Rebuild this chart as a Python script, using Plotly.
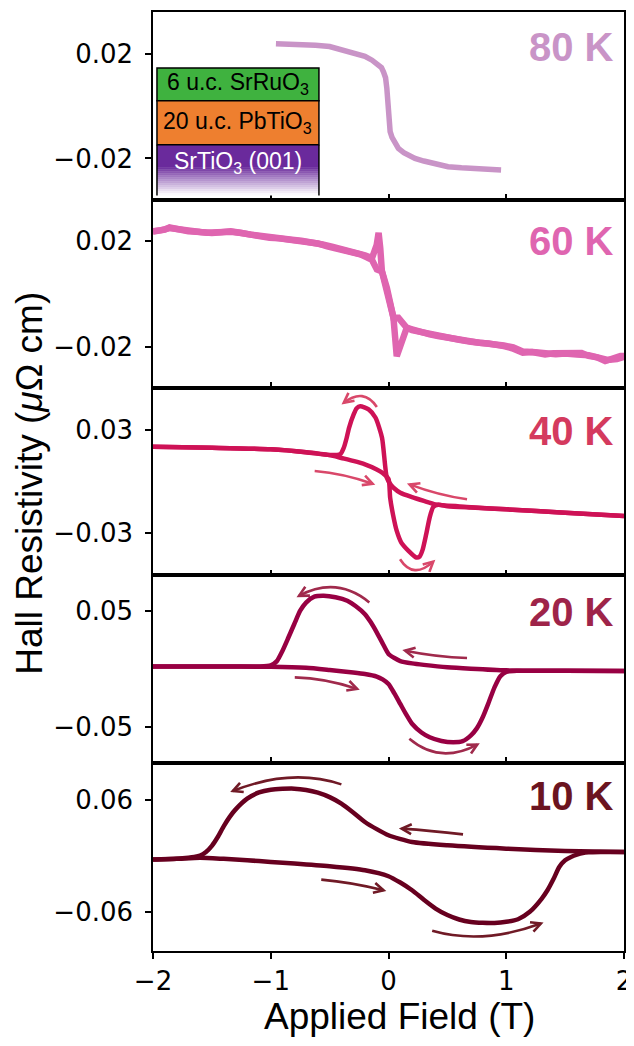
import math
import plotly.graph_objects as go
from plotly.subplots import make_subplots

# ---------------- data ----------------
field_80 = [-0.956, -0.86, -0.76, -0.62, -0.50, -0.40, -0.34, -0.26, -0.20, -0.14, -0.09,
            -0.06, -0.042, -0.025, -0.014, -0.006, 0.004, 0.014, 0.03, 0.05, 0.084, 0.13,
            0.18, 0.225, 0.30, 0.40, 0.506, 0.62, 0.75, 0.86, 0.956]
rho_80 = [0.0238, 0.0237, 0.0235, 0.0232, 0.0227, 0.0216, 0.0207, 0.0198, 0.0190, 0.0175, 0.0160,
          0.0147, 0.0130, 0.0108, 0.0067, 0.0010, -0.0055, -0.0098, -0.0120, -0.0140, -0.0162, -0.0178,
          -0.0190, -0.0200, -0.0210, -0.0222, -0.0232, -0.0236, -0.0240, -0.0242, -0.0244]

field_60_up = [-2.0, -1.95, -1.9, -1.86, -1.8, -1.75, -1.7, -1.6, -1.54, -1.45, -1.34, -1.25, -1.2,
               -1.1, -1.01, -0.93, -0.86, -0.78, -0.69, -0.6, -0.52, -0.45, -0.35, -0.28, -0.24, -0.18,
               -0.14, -0.099, -0.056, -0.014, 0.014, 0.042, 0.07, 0.11, 0.155, 0.2, 0.26, 0.31, 0.35,
               0.42, 0.49, 0.56, 0.64, 0.77, 0.85, 0.92, 0.98, 1.05, 1.14, 1.22, 1.33, 1.4, 1.5,
               1.58, 1.64, 1.7, 1.77, 1.84, 1.9, 1.97, 2.0]
rho_60_up = [0.0235, 0.0238, 0.0242, 0.0250, 0.0243, 0.0239, 0.0236, 0.0233, 0.0230, 0.0232, 0.0234, 0.0229, 0.0224,
             0.0219, 0.0211, 0.0209, 0.0205, 0.0203, 0.0198, 0.0190, 0.0179, 0.0172, 0.0162, 0.0155, 0.0149, 0.0137,
             0.0128, 0.0092, 0.0085, 0.0023, -0.0040, -0.0089, -0.0234, -0.0180, -0.0127, -0.0133, -0.0142, -0.0148, -0.0152,
             -0.0158, -0.0164, -0.0168, -0.0175, -0.0183, -0.0186, -0.0189, -0.0196, -0.0204, -0.0221, -0.0218, -0.0227, -0.0223, -0.0221,
             -0.0225, -0.0222, -0.0233, -0.0238, -0.0252, -0.0241, -0.0233, -0.0233]

field_60_down = [2.0, 1.94, 1.86, 1.78, 1.7, 1.6, 1.5, 1.42, 1.33, 1.25, 1.14, 1.06, 0.98, 0.9, 0.8,
                 0.7, 0.6, 0.5, 0.4, 0.3, 0.2, 0.155, 0.084, 0.042, 0.014, -0.014, -0.056, -0.07,
                 -0.084, -0.1, -0.14, -0.2, -0.26, -0.33, -0.4, -0.48, -0.56, -0.65, -0.74, -0.82,
                 -0.9, -1.0, -1.08, -1.17, -1.26, -1.34, -1.42, -1.5, -1.6, -1.7, -1.78, -1.86, -1.93, -2.0]
rho_60_down = [-0.0236, -0.0245, -0.0248, -0.0236, -0.0230, -0.0228, -0.0224, -0.0227, -0.0226, -0.0219, -0.0216, -0.0201, -0.0194, -0.0191, -0.0186,
               -0.0180, -0.0172, -0.0164, -0.0158, -0.0147, -0.0136, -0.0127, -0.0089, -0.0089, -0.0040, 0.0023, 0.0085, 0.0172,
               0.0230, 0.0185, 0.0135, 0.0145, 0.0153, 0.0160, 0.0168, 0.0178, 0.0186, 0.0195, 0.0200, 0.0204,
               0.0207, 0.0212, 0.0218, 0.0223, 0.0230, 0.0236, 0.0232, 0.0229, 0.0233, 0.0237, 0.0240, 0.0248, 0.0240, 0.0236]

field_40_up = [-2.0, -1.5, -1.0, -0.7, -0.5, -0.4, -0.3, -0.2, -0.1, -0.05, 0.0, 0.014, 0.04, 0.07,
               0.11, 0.17, 0.236, 0.265, 0.29, 0.32, 0.35, 0.38, 0.42, 0.5, 0.7, 1.0, 1.5, 2.0]
rho_40_up = [0.0204, 0.0198, 0.0189, 0.0172, 0.0155, 0.0138, 0.0121, 0.0101, 0.0071, 0.0050, 0.0015, -0.0095, -0.0200, -0.0290,
             -0.0360, -0.0407, -0.0446, -0.0440, -0.0400, -0.0310, -0.0210, -0.0150, -0.0137, -0.0145, -0.0153, -0.0163, -0.0183, -0.0202]

field_40_down = [2.0, 1.5, 1.0, 0.8, 0.6, 0.4, 0.3, 0.2, 0.1, 0.04, 0.02, -0.014, -0.055, -0.11,
                 -0.169, -0.24, -0.27, -0.295, -0.335, -0.355, -0.38, -0.41, -0.5, -0.7, -1.0, -1.5, -2.0]
rho_40_down = [-0.0202, -0.0183, -0.0163, -0.0155, -0.0146, -0.0134, -0.0114, -0.0092, -0.0066, -0.0035, -0.0020, 0.0022, 0.0257, 0.0374,
               0.0423, 0.0442, 0.0430, 0.0395, 0.0315, 0.0257, 0.0198, 0.0160, 0.0155, 0.0172, 0.0189, 0.0198, 0.0204]

field_20_up = [-2.0, -1.5, -1.0, -0.7, -0.5, -0.3, -0.2, -0.1, -0.05, 0.0, 0.05, 0.1, 0.15, 0.2, 0.28,
               0.35, 0.45, 0.55, 0.63, 0.7, 0.75, 0.8, 0.85, 0.9, 0.95, 1.0, 1.1, 1.5, 2.0]
rho_20_up = [0.0022, 0.0021, 0.0019, 0.0010, -0.0009, -0.0030, -0.0043, -0.0065, -0.0090, -0.0129, -0.0210, -0.0300, -0.0390, -0.0470, -0.0545,
             -0.0586, -0.0618, -0.0629, -0.0620, -0.0570, -0.0510, -0.0415, -0.0290, -0.0158, -0.0062, -0.0025, -0.0016, -0.0015, -0.0018]

field_20_down = [2.0, 1.5, 1.0, 0.7, 0.5, 0.3, 0.2, 0.1, 0.05, 0.0, -0.05, -0.1, -0.15, -0.2, -0.28,
                 -0.35, -0.45, -0.55, -0.63, -0.7, -0.75, -0.8, -0.85, -0.9, -0.95, -1.0, -1.1, -1.5, -2.0]
rho_20_down = [-0.0018, -0.0015, -0.0012, 0.0002, 0.0014, 0.0035, 0.0048, 0.0068, 0.0094, 0.0129, 0.0220, 0.0314, 0.0400, 0.0470, 0.0540,
               0.0585, 0.0615, 0.0628, 0.0620, 0.0570, 0.0500, 0.0386, 0.0270, 0.0157, 0.0065, 0.0030, 0.0021, 0.0021, 0.0022]

field_10_up = [-2.0, -1.8, -1.6, -1.4, -1.2, -1.0, -0.8, -0.5, -0.2, 0.0, 0.1, 0.2, 0.3, 0.4, 0.5, 0.6, 0.7,
               0.8, 0.9, 1.0, 1.1, 1.2, 1.3, 1.35, 1.4, 1.45, 1.5, 1.55, 1.6, 1.65, 1.7, 1.8, 2.0]
rho_10_up = [-0.0038, -0.0030, -0.0018, -0.0030, -0.0045, -0.0063, -0.0080, -0.0110, -0.0153, -0.0217, -0.0285, -0.0368, -0.0470, -0.0565, -0.0635, -0.0683, -0.0710,
             -0.0719, -0.0720, -0.0708, -0.0680, -0.0600, -0.0460, -0.0368, -0.0250, -0.0117, -0.0045, -0.0010, 0.0015, 0.0033, 0.0040, 0.0043, 0.0044]

field_10_down = [2.0, 1.5, 1.0, 0.5, 0.2, 0.0, -0.1, -0.2, -0.3, -0.4, -0.5, -0.6, -0.7, -0.8, -0.9,
                 -1.0, -1.1, -1.2, -1.3, -1.35, -1.4, -1.45, -1.5, -1.55, -1.6, -1.65, -1.7, -1.8, -2.0]
rho_10_down = [0.0044, 0.0055, 0.0080, 0.0116, 0.0152, 0.0224, 0.0290, 0.0367, 0.0470, 0.0565, 0.0635, 0.0683, 0.0712, 0.0726, 0.0724,
               0.0715, 0.0685, 0.0618, 0.0500, 0.0420, 0.0320, 0.0205, 0.0110, 0.0044, 0.0005, -0.0010, -0.0018, -0.0028, -0.0038]

temperature_labels = ["80 K", "60 K", "40 K", "20 K", "10 K"]
y_tickvals = [[-0.02, 0.02], [-0.02, 0.02], [-0.03, 0.03], [-0.05, 0.05], [-0.06, 0.06]]
x_tickvals = [-2, -1, 0, 1, 2]
layer_labels = ["6 u.c. SrRuO<sub>3</sub>", "20 u.c. PbTiO<sub>3</sub>", "SrTiO<sub>3</sub> (001)"]

# ---------------- styling ----------------
# the page body adds an 8 px offset, so the figure is 8 px smaller and margins shifted
OFF = 8
W, H = 634 - OFF, 1046 - OFF
PL, PR, PT, PB = 153, 627, 10, 951          # plot area in screen pixels
ML, MR, MT, MB = PL - OFF, W - (PR - OFF), PT - OFF, H - (PB - OFF)
PW, PH = PR - PL, PB - PT
FONT = "Liberation Sans, Arial, Helvetica, sans-serif"
TICKFONT = "DejaVu Sans, sans-serif"
line_colors = ["#c994c7", "#df65b0", "#ce1256", "#980043", "#67001f"]
label_colors = ["#c994c7", "#df65b0", "#d43a5e", "#9e2449", "#6b1420"]
arrow_colors = [None, None, "#d9486a", "#a02a4c", "#701a26"]
line_widths = [5.5, 6.5, 4.5, 4.5, 4.5]
y_ranges = [[-0.0358, 0.0359], [-0.0352, 0.0354], [-0.0551, 0.0551], [-0.0809, 0.0803], [-0.1022, 0.100]]
label_y = [0.0226, 0.0198, 0.0296, 0.0491, 0.0643]


def px_x(p):
    return (p - PL) / PW


def px_y(p):
    return (PB - p) / PH


fig = make_subplots(rows=5, cols=1, shared_xaxes=True, vertical_spacing=0)

series = [
    [(field_80, rho_80)],
    [(field_60_up, rho_60_up), (field_60_down, rho_60_down)],
    [(field_40_up, rho_40_up), (field_40_down, rho_40_down)],
    [(field_20_up, rho_20_up), (field_20_down, rho_20_down)],
    [(field_10_up, rho_10_up), (field_10_down, rho_10_down)],
]
for i, group in enumerate(series):
    for fx, fy in group:
        smooth = i >= 2
        fig.add_trace(go.Scatter(
            x=fx, y=fy, mode="lines",
            line=dict(color=line_colors[i], width=line_widths[i],
                      shape="spline" if smooth else "linear", smoothing=0.6 if smooth else None),
            showlegend=False, hoverinfo="skip"), row=i + 1, col=1)

for i in range(5):
    r = i + 1
    fig.update_yaxes(row=r, col=1, range=y_ranges[i], tickvals=y_tickvals[i],
                     tickformat=".2f", ticks="outside", ticklen=6, tickwidth=1.5, tickcolor="black",
                     ticklabelstandoff=7,
                     showline=True, linecolor="black", linewidth=1.5, mirror=True,
                     showgrid=False, zeroline=False,
                     tickfont=dict(family=TICKFONT, size=26, color="black"))
    last = (r == 5)
    fig.update_xaxes(row=r, col=1, range=[-2, 2], tickvals=x_tickvals,
                     ticks="outside" if last else "inside", ticklen=6, tickwidth=1.5, tickcolor="black",
                     showticklabels=last, ticklabeloverflow="allow",
                     showline=True, linecolor="black", linewidth=1.5, mirror=True,
                     showgrid=False, zeroline=False,
                     tickfont=dict(family=TICKFONT, size=26, color="black"))
    ax = "" if r == 1 else str(r)
    fig.add_annotation(x=2, y=label_y[i], xref=f"x{ax}", yref=f"y{ax}",
                       text=f"<b>{temperature_labels[i]}</b>", showarrow=False,
                       xanchor="right", yanchor="middle", xshift=-8,
                       font=dict(family=FONT, size=40, color=label_colors[i]))

# ---------------- sweep arrows (start, apex, end) in data units ----------------
arrows = {
    3: [((-0.099, 0.0437), (-0.225, 0.0501), (-0.38, 0.0462)),
        ((-0.627, 0.0062), (-0.38, 0.0036), (-0.135, -0.0013)),
        ((0.667, -0.0104), (0.424, -0.0071), (0.179, -0.0017)),
        ((0.098, -0.0456), (0.225, -0.0520), (0.38, -0.0470))],
    4: [((-0.163, 0.0571), (-0.45, 0.0700), (-0.76, 0.0628)),
        ((-0.796, -0.0072), (-0.534, -0.0100), (-0.267, -0.0171)),
        ((0.667, 0.0094), (0.408, 0.0114), (0.141, 0.0157)),
        ((0.177, -0.0600), (0.45, -0.0723), (0.754, -0.0649))],
    5: [((-0.40, 0.0772), (-0.844, 0.0844), (-1.322, 0.0700)),
        ((-0.571, -0.0253), (-0.31, -0.0296), (-0.042, -0.0368)),
        ((0.633, 0.0234), (0.366, 0.0270), (0.112, 0.0296)),
        ((0.371, -0.0805), (0.816, -0.0862), (1.294, -0.0726))],
}
sx = PW / 4.0
for r, lst in arrows.items():
    xr, yr = f"x{r}", f"y{r}"
    col = arrow_colors[r - 1]
    yr0, yr1 = y_ranges[r - 1]
    sy = (PH / 5.0) / (yr1 - yr0)
    for (p0, ap, p2) in lst:
        cx = 2 * ap[0] - 0.5 * (p0[0] + p2[0])
        cy = 2 * ap[1] - 0.5 * (p0[1] + p2[1])
        fig.add_shape(type="path", xref=xr, yref=yr,
                      path=f"M {p0[0]},{p0[1]} Q {cx},{cy} {p2[0]},{p2[1]}",
                      line=dict(color=col, width=2.6))
        # chevron head, built in pixel space then mapped back to data units
        dx, dy = (p2[0] - cx) * sx, (p2[1] - cy) * sy
        n = math.hypot(dx, dy)
        ux, uy = dx / n, dy / n
        L, ang = 11.0, math.radians(27)
        pts = []
        for s in (1, -1):
            c, si = math.cos(s * ang), math.sin(s * ang)
            wx = -(ux * c - uy * si) * L
            wy = -(ux * si + uy * c) * L
            pts.append((p2[0] + wx / sx, p2[1] + wy / sy))
        fig.add_shape(type="path", xref=xr, yref=yr,
                      path=(f"M {pts[0][0]},{pts[0][1]} L {p2[0]},{p2[1]} "
                            f"L {pts[1][0]},{pts[1][1]}"),
                      line=dict(color=col, width=2.6))

# ---------------- layer-stack inset ----------------
bx0, bx1 = px_x(157), px_x(320)
fig.add_shape(type="rect", xref="paper", yref="paper", x0=bx0, x1=bx1, y0=px_y(99), y1=px_y(66),
              fillcolor="#3fb23f", line=dict(color="black", width=1.5))
fig.add_shape(type="rect", xref="paper", yref="paper", x0=bx0, x1=bx1, y0=px_y(143), y1=px_y(99),
              fillcolor="#ee7f2f", line=dict(color="black", width=1.5))
purple = (106, 42, 156)
fig.add_shape(type="rect", xref="paper", yref="paper", x0=bx0, x1=bx1, y0=px_y(166), y1=px_y(143),
              fillcolor="rgb(106,42,156)", line=dict(width=0))
nstrip = 14
top, bot = 166, 194
for k in range(nstrip):
    a = top + (bot - top) * k / nstrip
    b = top + (bot - top) * (k + 1) / nstrip
    t = (k + 0.5) / nstrip
    c = tuple(int(round(v + (255 - v) * t ** 0.9)) for v in purple)
    fig.add_shape(type="rect", xref="paper", yref="paper", x0=bx0, x1=bx1, y0=px_y(b), y1=px_y(a - 0.3),
                  fillcolor=f"rgb{c}", line=dict(width=0))
for xx in (bx0, bx1):
    fig.add_shape(type="line", xref="paper", yref="paper", x0=xx, x1=xx, y0=px_y(194), y1=px_y(143),
                  line=dict(color="black", width=1.5))
fig.add_shape(type="line", xref="paper", yref="paper", x0=bx0, x1=bx1, y0=px_y(143), y1=px_y(143),
              line=dict(color="black", width=1.5))

for txt, yc, colr in zip(layer_labels, [82, 121, 161], ["black", "black", "white"]):
    fig.add_annotation(xref="paper", yref="paper", x=(bx0 + bx1) / 2, y=px_y(yc), text=txt,
                       showarrow=False, xanchor="center", yanchor="middle",
                       font=dict(family=FONT, size=23, color=colr))

# ---------------- axis titles ----------------
fig.add_annotation(xref="paper", yref="paper", x=px_x(401), y=px_y(1017),
                   text="Applied Field (T)", showarrow=False, xanchor="center", yanchor="middle",
                   font=dict(family=FONT, size=37, color="black"))
fig.add_annotation(xref="paper", yref="paper", x=px_x(29), y=px_y(482),
                   text="Hall Resistivity (<i>μ</i>Ω cm)", showarrow=False, textangle=-90,
                   xanchor="center", yanchor="middle",
                   font=dict(family=FONT, size=37, color="black"))

fig.update_layout(width=W, height=H, margin=dict(l=ML, r=MR, t=MT, b=MB),
                  paper_bgcolor="white", plot_bgcolor="white", showlegend=False)

fig.write_html("out.html")
